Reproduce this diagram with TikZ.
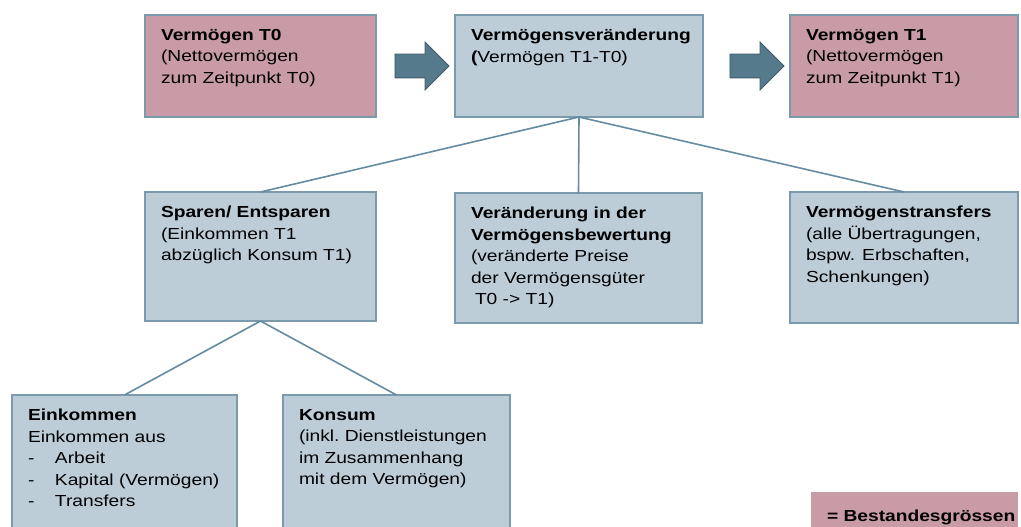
\documentclass[tikz,border=0pt]{standalone}
\usepackage{fontspec}
\setmainfont{Liberation Sans}[FakeStretch=1.2]
\usetikzlibrary{shapes.arrows}
\definecolor{rosa}{HTML}{C99BA6}
\definecolor{blaugrau}{HTML}{BDCDD7}
\definecolor{rand}{HTML}{7B9BAC}
\definecolor{linie}{HTML}{648BA0}
\definecolor{pfeil}{HTML}{557A8B}
\newcommand{\feld}[3]{\parbox[t][#2pt][t]{\dimexpr#1pt-32pt\relax}{\vspace*{14pt}#3}}
\newcommand{\strich}{\makebox[27pt][l]{-}}
\tikzset{kasten/.style={draw=rand,line width=1.3pt,anchor=north west,align=left,inner xsep=16pt,inner ysep=0pt,outer sep=0pt,font=\fontsize{16}{21.5}\selectfont},bestandbox/.style={kasten,fill=rosa},flussbox/.style={kasten,fill=blaugrau},verbinder/.style={draw=linie,line width=1.6pt},blockpfeil/.style={single arrow,draw=pfeil!75!black,fill=pfeil,line width=.8pt,inner xsep=0pt,inner ysep=11.5pt,minimum height=54pt,single arrow head extend=12pt},legende/.style={anchor=north west,fill=rosa,inner sep=0pt,outer sep=0pt,align=left,font=\fontsize{16}{21.5}\selectfont\bfseries}}

\begin{document}
\begin{tikzpicture}[x=1pt,y=-1pt]
\useasboundingbox (0,0) rectangle (1021,527);
\node[bestandbox] (vT0) at (145,15) {\feld{231}{102}{\textbf{Vermögen T0}\\(Nettovermögen\\zum Zeitpunkt T0)}};
\node[flussbox] (vDelta) at (455,15) {\feld{248}{102}{\textbf{Vermögensveränderung}\\\textbf{(}Vermögen T1-T0)}};
\node[bestandbox] (vT1) at (790,15) {\feld{228}{102}{\textbf{Vermögen T1}\\(Nettovermögen\\zum Zeitpunkt T1)}};
\node[blockpfeil] (pfeilA) at (416,66) {};
\node[blockpfeil] (pfeilB) at (751,66) {};
\node[flussbox] (sparen) at (145,192) {\feld{231}{129}{\textbf{Sparen/ Entsparen}\\(Einkommen T1\\abzüglich Konsum T1)}};
\node[flussbox] (bewertung) at (455,193) {\feld{247}{130}{\textbf{Veränderung in der}\\\textbf{Vermögensbewertung}\\(veränderte Preise\\der Vermögensgüter\\\hspace*{4pt}T0 -> T1)}};
\node[flussbox] (transfers) at (790,192) {\feld{228}{131}{\textbf{Vermögenstransfers}\\(alle Übertragungen,\\bspw. Erbschaften,\\Schenkungen)}};
\node[flussbox] (einkommen) at (12,395) {\feld{225}{150}{\textbf{Einkommen}\\Einkommen aus\\\strich Arbeit\\\strich Kapital (Vermögen)\\\strich Transfers}};
\node[flussbox] (konsum) at (283,395) {\feld{227}{150}{\textbf{Konsum}\\(inkl.\ Dienstleistungen\\im Zusammenhang\\mit dem Vermögen)}};
\node[legende] (legende) at (811,492) {\parbox[t][50pt][t]{207pt}{\vspace*{18pt}\hspace*{16pt}\mbox{= Bestandesgrössen}}};
\draw[verbinder] (vDelta.south) -- (sparen.north);
\draw[verbinder] (vDelta.south) -- (bewertung.north);
\draw[verbinder] (vDelta.south) -- (transfers.north);
\draw[verbinder] (sparen.south) -- (einkommen.north);
\draw[verbinder] (sparen.south) -- (konsum.north);
\end{tikzpicture}
\end{document}
